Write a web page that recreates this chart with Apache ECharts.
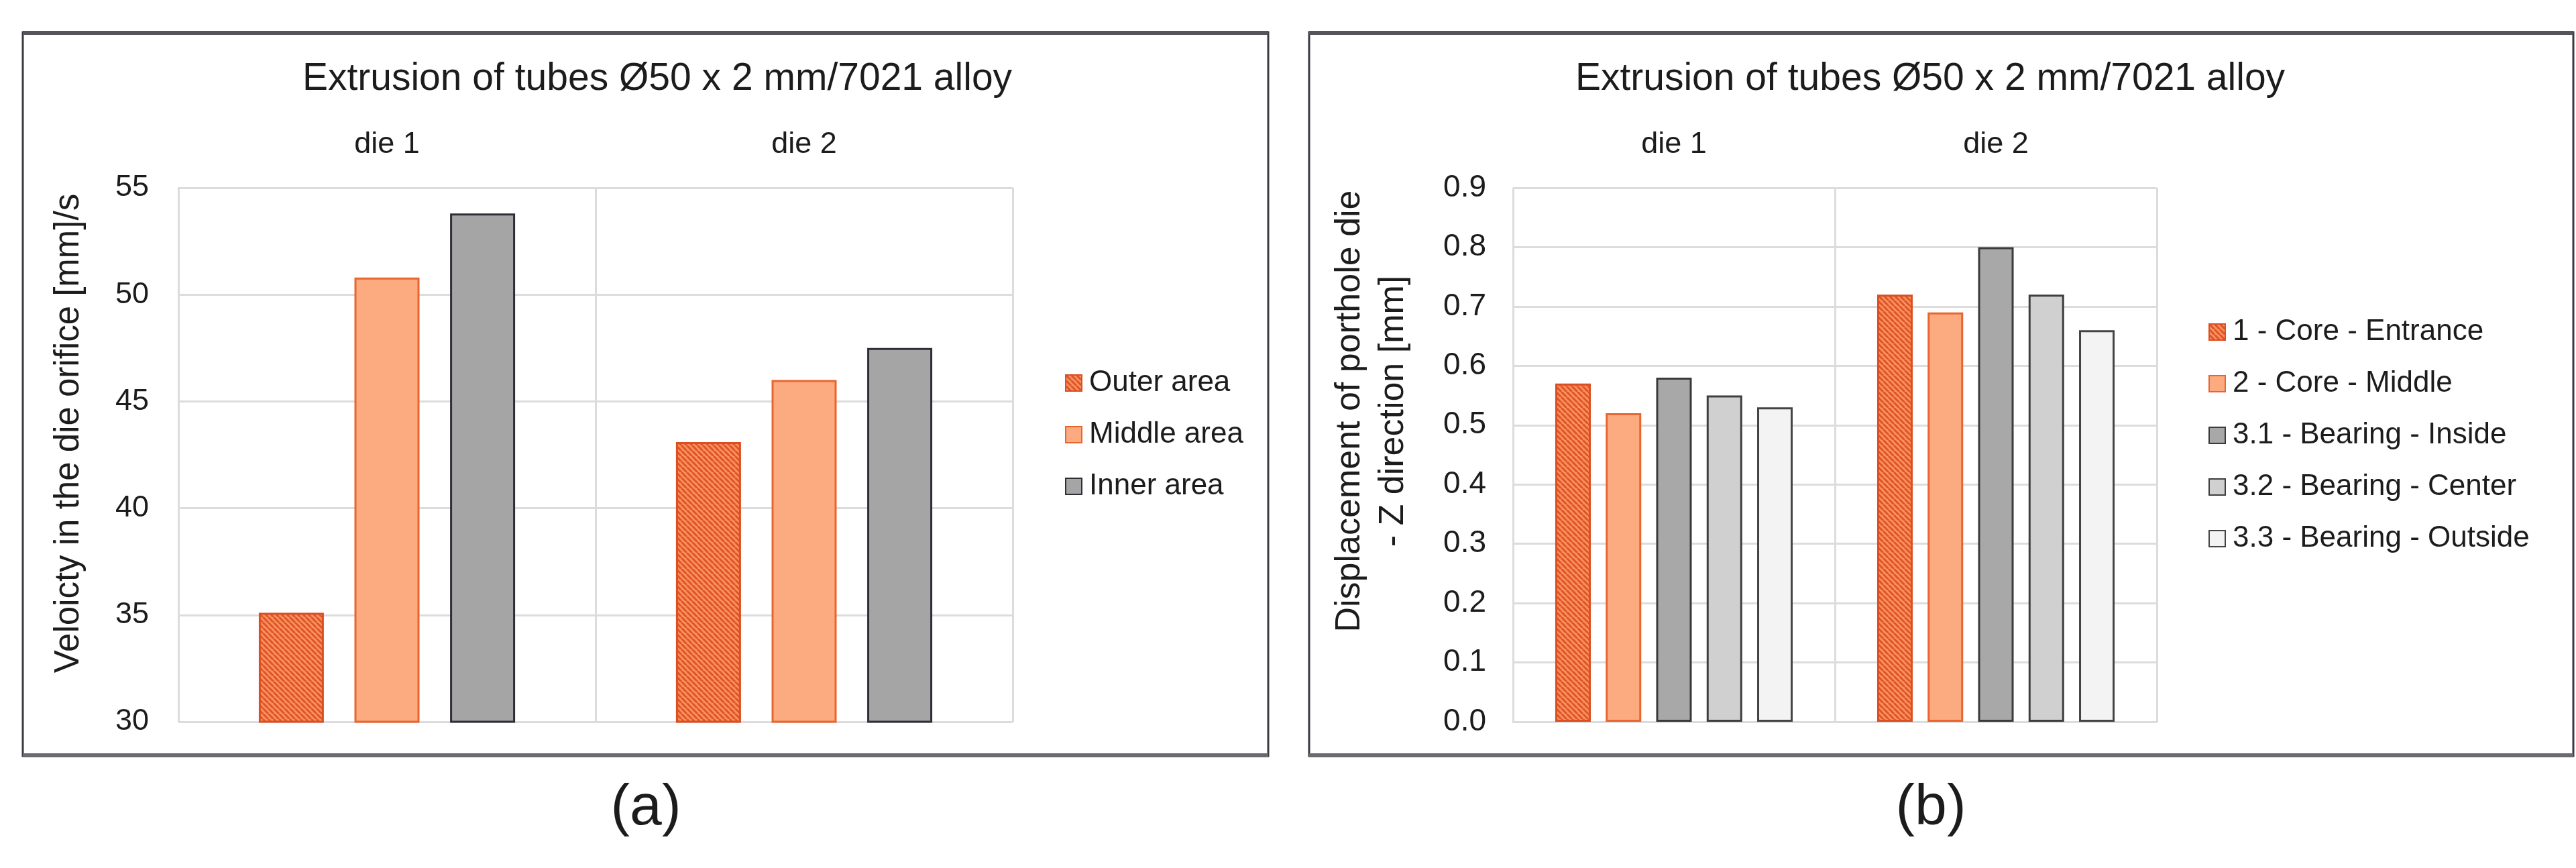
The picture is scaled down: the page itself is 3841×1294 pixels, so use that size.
<!DOCTYPE html>
<html>
<head>
<meta charset="utf-8">
<script src="https://cdn.jsdelivr.net/npm/echarts@6/dist/echarts.min.js"></script>
<style>
html,body{margin:0;padding:0;background:#ffffff;}
#chart{width:3841px;height:1294px;}
</style>
</head>
<body>
<div id="chart"></div>
<script>
// ---- data ----
var categories = ['die 1', 'die 2'];
var seriesNamesA = ['Outer area', 'Middle area', 'Inner area'];
var outerArea = [35.1, 43.1];
var middleArea = [50.8, 46.0];
var innerArea = [53.8, 47.5];
var yMinA = 30, yMaxA = 55, yStepA = 5;

var seriesNamesB = ['1 - Core - Entrance', '2 - Core - Middle', '3.1 - Bearing - Inside', '3.2 - Bearing - Center', '3.3 - Bearing - Outside'];
var coreEntrance = [0.57, 0.72];
var coreMiddle = [0.52, 0.69];
var bearingInside = [0.58, 0.80];
var bearingCenter = [0.55, 0.72];
var bearingOutside = [0.53, 0.66];
var yMinB = 0, yMaxB = 0.9, yStepB = 0.1;

var chartTitle = 'Extrusion of tubes \u00D850 x 2 mm/7021 alloy';
var yTitleA = 'Veloicty in the die orifice [mm]/s';
var yTitleB = 'Displacement of porthole die\n- Z direction [mm]';

// ---- hatch pattern ----
function makeHatch() {
  var s = 8;
  var c = document.createElement('canvas');
  c.width = s; c.height = s;
  var g = c.getContext('2d');
  g.fillStyle = '#f8935c';
  g.fillRect(0, 0, s, s);
  g.strokeStyle = '#e0522a';
  g.lineWidth = 3;
  for (var k = -1; k <= 1; k++) {
    g.beginPath();
    g.moveTo(k * s, 0);
    g.lineTo(k * s + s, s);
    g.stroke();
  }
  return c;
}
var hatch = { image: makeHatch(), repeat: 'repeat' };

var FONT = "'Liberation Sans', Arial, Helvetica, sans-serif";
var TXT = '#1c1c1c';
var GRIDC = '#dcdcdc';

var chart = echarts.init(document.getElementById('chart'), null, { renderer: 'canvas' });

function xAxisCfg(gi) {
  return {
    type: 'category', gridIndex: gi, data: categories, position: 'top',
    axisLine: { show: true, lineStyle: { color: GRIDC, width: 3 } },
    axisTick: { show: false },
    splitLine: { show: true, interval: 0, lineStyle: { color: GRIDC, width: 3 } },
    axisLabel: { fontFamily: FONT, fontSize: 45, color: TXT, margin: 42 }
  };
}

function barStyle(fill, border) {
  return { color: fill, borderColor: border, borderWidth: 3 };
}

var option = {
  backgroundColor: '#ffffff',
  animation: false,
  grid: [
    { left: 266, top: 280, width: 1244, height: 796, containLabel: false },
    { left: 2256, top: 280, width: 960, height: 796, containLabel: false }
  ],
  xAxis: [xAxisCfg(0), xAxisCfg(1)],
  yAxis: [
    {
      type: 'value', gridIndex: 0, min: yMinA, max: yMaxA, interval: yStepA,
      axisLine: { show: false }, axisTick: { show: false },
      splitLine: { show: true, lineStyle: { color: GRIDC, width: 3 } },
      axisLabel: { fontFamily: FONT, fontSize: 45, color: TXT, margin: 44 }
    },
    {
      type: 'value', gridIndex: 1, min: yMinB, max: yMaxB, interval: yStepB,
      axisLine: { show: false }, axisTick: { show: false },
      splitLine: { show: true, lineStyle: { color: GRIDC, width: 3 } },
      axisLabel: { fontFamily: FONT, fontSize: 46, color: TXT, margin: 40,
        formatter: function (v) { return v.toFixed(1); } }
    }
  ],
  legend: [
    {
      data: seriesNamesA, orient: 'vertical', left: 1583, top: 544,
      itemWidth: 24, itemHeight: 24, itemGap: 33, icon: 'rect',
      textStyle: { fontFamily: FONT, fontSize: 44, color: TXT, lineHeight: 44, padding: [0, 0, 0, 6] }
    },
    {
      data: seriesNamesB, orient: 'vertical', left: 3288, top: 468,
      itemWidth: 24, itemHeight: 24, itemGap: 33, icon: 'rect',
      textStyle: { fontFamily: FONT, fontSize: 44, color: TXT, lineHeight: 44, padding: [0, 0, 0, 6] }
    }
  ],
  series: [
    { name: seriesNamesA[0], type: 'bar', xAxisIndex: 0, yAxisIndex: 0, data: outerArea,
      barWidth: 97, barGap: '47%', itemStyle: barStyle(hatch, '#dc4f22') },
    { name: seriesNamesA[1], type: 'bar', xAxisIndex: 0, yAxisIndex: 0, data: middleArea,
      barWidth: 97, barGap: '47%', itemStyle: barStyle('#fcab80', '#e9652f') },
    { name: seriesNamesA[2], type: 'bar', xAxisIndex: 0, yAxisIndex: 0, data: innerArea,
      barWidth: 97, barGap: '47%', itemStyle: barStyle('#a5a5a5', '#2e2e36') },

    { name: seriesNamesB[0], type: 'bar', xAxisIndex: 1, yAxisIndex: 1, data: coreEntrance,
      barWidth: 53, barGap: '42%', itemStyle: barStyle(hatch, '#dc4f22') },
    { name: seriesNamesB[1], type: 'bar', xAxisIndex: 1, yAxisIndex: 1, data: coreMiddle,
      barWidth: 53, barGap: '42%', itemStyle: barStyle('#fcab80', '#e9652f') },
    { name: seriesNamesB[2], type: 'bar', xAxisIndex: 1, yAxisIndex: 1, data: bearingInside,
      barWidth: 53, barGap: '42%', itemStyle: barStyle('#a9a8a8', '#3a3a3a') },
    { name: seriesNamesB[3], type: 'bar', xAxisIndex: 1, yAxisIndex: 1, data: bearingCenter,
      barWidth: 53, barGap: '42%', itemStyle: barStyle('#d0d0d0', '#3e3e3e') },
    { name: seriesNamesB[4], type: 'bar', xAxisIndex: 1, yAxisIndex: 1, data: bearingOutside,
      barWidth: 53, barGap: '42%', itemStyle: barStyle('#f3f3f3', '#444444') }
  ],
  graphic: [
    // panel frames
    { type: 'rect', shape: { x: 34, y: 48, width: 1857, height: 1079 },
      style: { fill: 'none', stroke: '#3a3a40', lineWidth: 3 }, z: 10 },
    { type: 'line', shape: { x1: 34, y1: 49, x2: 1891, y2: 49 }, style: { stroke: '#55555c', lineWidth: 6 }, z: 10 },
    { type: 'line', shape: { x1: 34, y1: 1126, x2: 1891, y2: 1126 }, style: { stroke: '#6a6a70', lineWidth: 6 }, z: 10 },
    { type: 'rect', shape: { x: 1952, y: 48, width: 1885, height: 1079 },
      style: { fill: 'none', stroke: '#3a3a40', lineWidth: 3 }, z: 10 },
    { type: 'line', shape: { x1: 1952, y1: 49, x2: 3837, y2: 49 }, style: { stroke: '#55555c', lineWidth: 6 }, z: 10 },
    { type: 'line', shape: { x1: 1952, y1: 1126, x2: 3837, y2: 1126 }, style: { stroke: '#6a6a70', lineWidth: 6 }, z: 10 },
    // titles
    { type: 'text', x: 980, y: 118, style: { text: chartTitle, fontFamily: FONT, fontSize: 57, fill: TXT,
      textAlign: 'center', textVerticalAlign: 'middle' } },
    { type: 'text', x: 2878, y: 118, style: { text: chartTitle, fontFamily: FONT, fontSize: 57, fill: TXT,
      textAlign: 'center', textVerticalAlign: 'middle' } },
    // y axis titles
    { type: 'text', x: 103, y: 646, rotation: Math.PI / 2, style: { text: yTitleA, fontFamily: FONT, fontSize: 51,
      fill: TXT, textAlign: 'center', textVerticalAlign: 'middle' } },
    { type: 'text', x: 2045, y: 613, rotation: Math.PI / 2, style: { text: yTitleB, fontFamily: FONT, fontSize: 52,
      lineHeight: 65, fill: TXT, textAlign: 'center', textVerticalAlign: 'middle' } },
    // panel labels
    { type: 'text', x: 963, y: 1205, style: { text: '(a)', fontFamily: FONT, fontSize: 86, fill: TXT,
      textAlign: 'center', textVerticalAlign: 'middle' } },
    { type: 'text', x: 2879, y: 1205, style: { text: '(b)', fontFamily: FONT, fontSize: 86, fill: TXT,
      textAlign: 'center', textVerticalAlign: 'middle' } }
  ]
};
chart.setOption(option);
</script>
</body>
</html>
